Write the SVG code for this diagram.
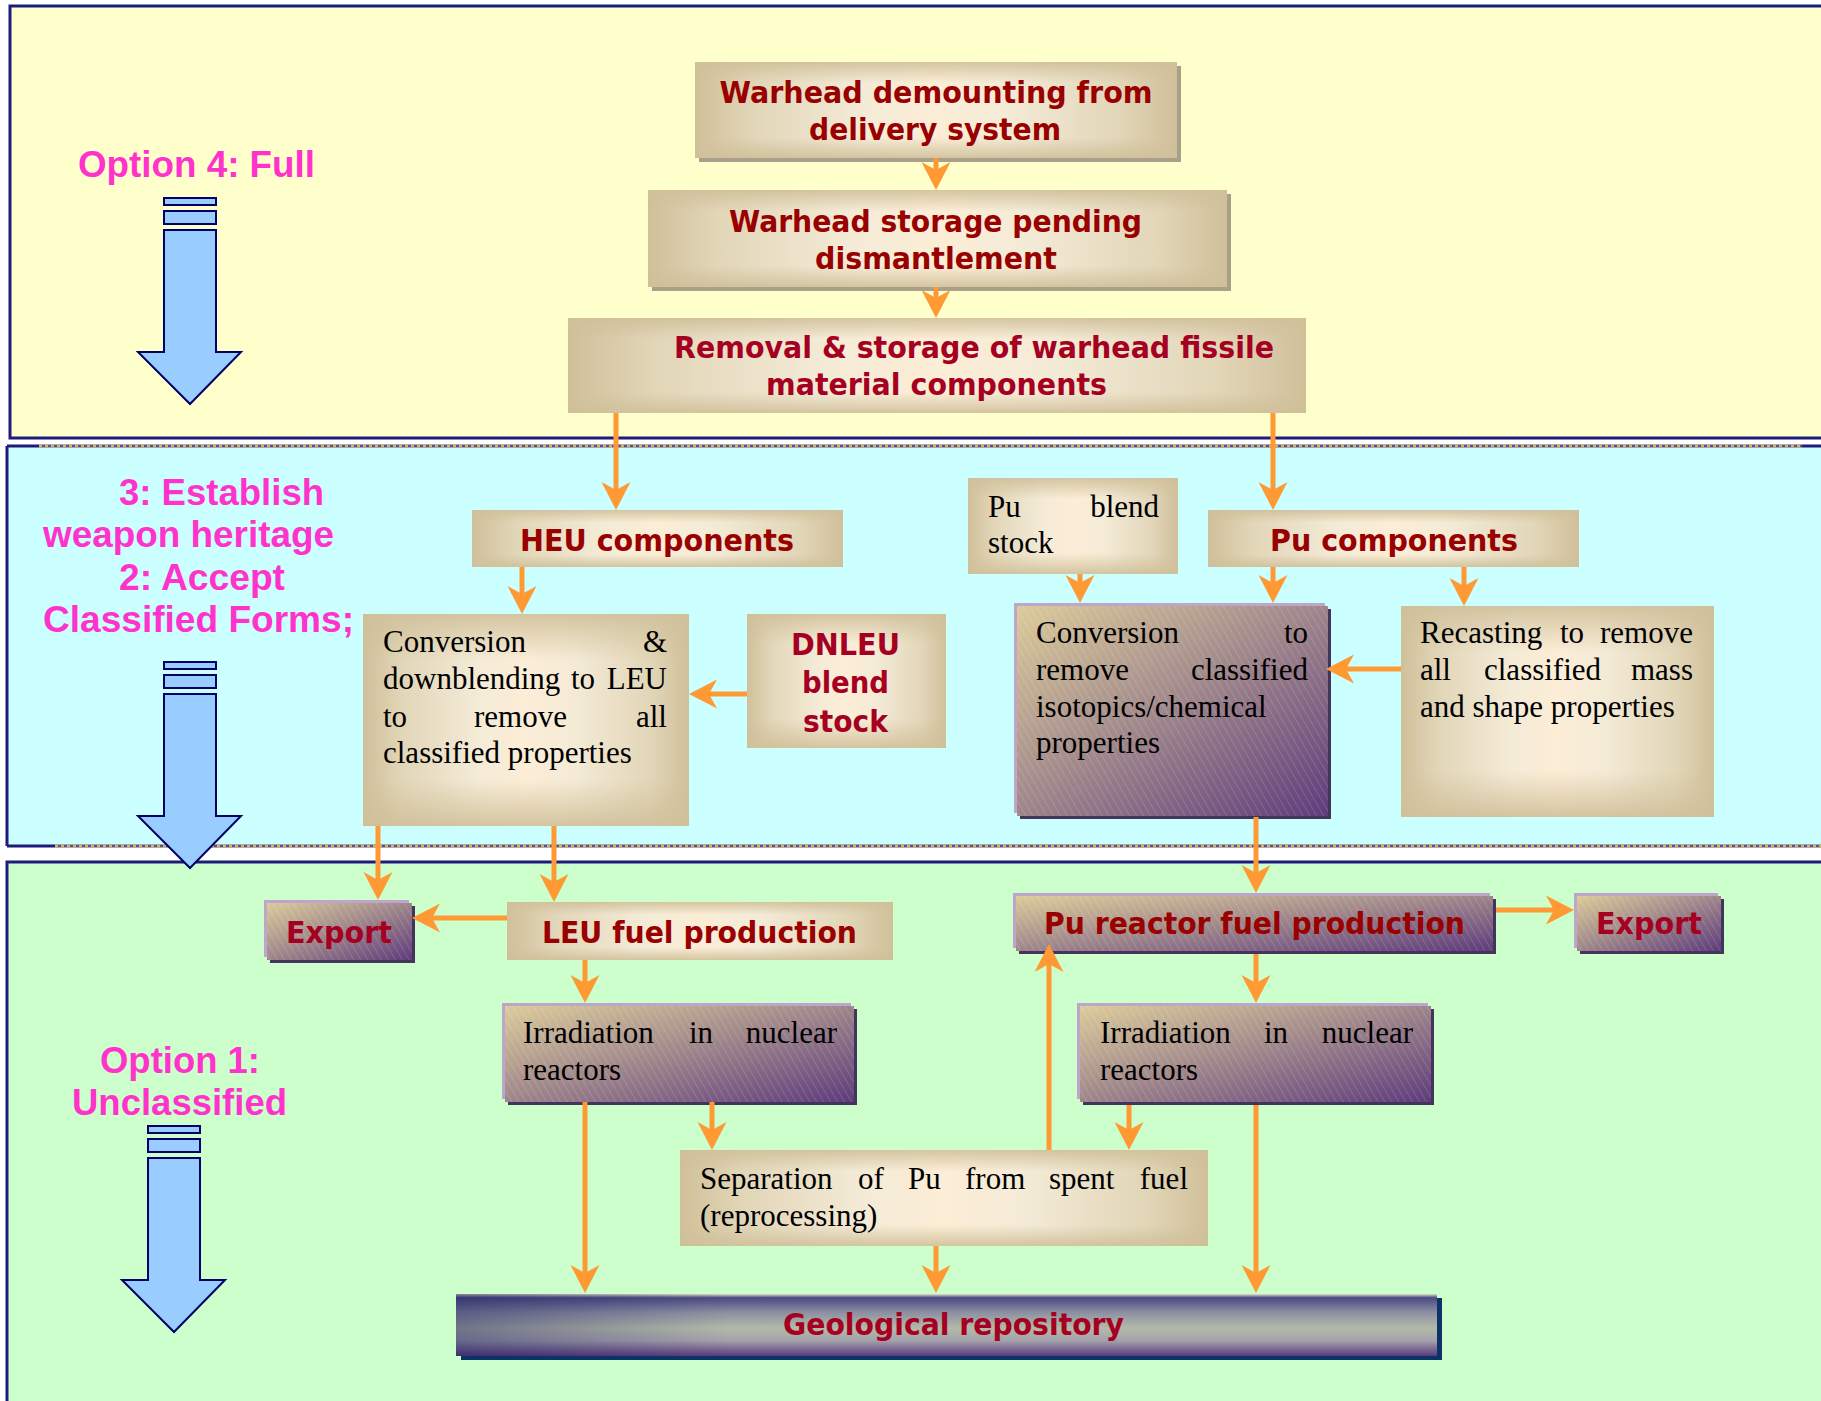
<svg xmlns="http://www.w3.org/2000/svg" width="1821" height="1401" viewBox="0 0 1821 1401">
<style>
.pk{font-family:"Liberation Sans",Arial,sans-serif;font-weight:bold;font-size:36px;fill:#FF33CC}
.bt{font-family:"DejaVu Sans",Verdana,sans-serif;font-weight:bold;font-size:29.5px;fill:#990000;text-anchor:middle}
.c2{fill:#A50021}
.st{font-family:"Liberation Serif","Times New Roman",serif;font-size:31px;fill:#000}
.e{text-anchor:end}
.cn{fill:none;stroke:#FF9933;stroke-width:5;marker-end:url(#ah)}
.ba{fill:#99CCFF;stroke:#000066;stroke-width:2}
.bh{fill:url(#gBh)}
.bv{fill:url(#gBv)}
.bs{fill:#A8A08A}
.ps{fill:#43345C}
.pl{fill:#BCA6CC}
.pg{fill:url(#gP)}
.ph{fill:url(#hatch)}
.nv{stroke:#1C1C7C;stroke-width:3;fill:none}
.dt{stroke:#D8B068;stroke-width:3;stroke-dasharray:3 3;fill:none}
</style>
<defs>
<linearGradient id="gBh" x1="0" y1="0" x2="1" y2="0">
<stop offset="0" stop-color="#D0C09A"/><stop offset="0.12" stop-color="#E2D6B8"/><stop offset="0.35" stop-color="#F4EBD7"/><stop offset="0.5" stop-color="#FCEDD6"/><stop offset="0.65" stop-color="#F4EBD7"/><stop offset="0.88" stop-color="#E2D6B8"/><stop offset="1" stop-color="#D0C09A"/>
</linearGradient>
<linearGradient id="gBv" x1="0" y1="0" x2="0" y2="1">
<stop offset="0" stop-color="#D0C09A" stop-opacity="0.9"/><stop offset="0.22" stop-color="#D0C09A" stop-opacity="0"/><stop offset="0.78" stop-color="#D0C09A" stop-opacity="0"/><stop offset="1" stop-color="#D0C09A" stop-opacity="0.9"/>
</linearGradient>
<linearGradient id="gP" x1="0" y1="0" x2="1" y2="1">
<stop offset="0" stop-color="#DCCB9A"/><stop offset="0.45" stop-color="#A48C8C"/><stop offset="1" stop-color="#5E3C7C"/>
</linearGradient>
<pattern id="hatch" patternUnits="userSpaceOnUse" width="6" height="6" patternTransform="rotate(-30)">
<line x1="0" y1="0" x2="0" y2="6" stroke="#FFFFFF" stroke-opacity="0.18" stroke-width="1.5"/>
</pattern>
<linearGradient id="gGv" x1="0" y1="0" x2="0" y2="1">
<stop offset="0" stop-color="#E2E2C8"/><stop offset="0.06" stop-color="#4C4A82"/><stop offset="0.3" stop-color="#8C90A2"/><stop offset="0.55" stop-color="#B4BAA8"/><stop offset="0.75" stop-color="#A4A2AC"/><stop offset="1" stop-color="#5A3A7C"/>
</linearGradient>
<linearGradient id="gGh" x1="0" y1="0" x2="1" y2="0">
<stop offset="0" stop-color="#1E2060" stop-opacity="0.45"/><stop offset="0.28" stop-color="#1E2060" stop-opacity="0"/>
</linearGradient>
<marker id="ah" markerUnits="userSpaceOnUse" markerWidth="42" markerHeight="32" viewBox="-30 -16 42 32" refX="0" refY="0" orient="auto" overflow="visible">
<path d="M10,0 L-18,-14.5 L-10,0 L-18,14.5 Z" fill="#FF9933"/>
</marker>
</defs>
<rect x="0" y="0" width="1821" height="1401" fill="#FFFFFF"/>

<!-- panels -->
<rect x="10" y="6" width="1830" height="432" fill="#FFFFCC" stroke="#1C1C7C" stroke-width="3"/>
<rect x="7" y="446" width="1830" height="400" fill="#CCFFFF"/>
<path class="nv" d="M7,446 V846"/>
<path class="nv" d="M7,446 H39 M1802,446 H1821 M7,846 H55"/>
<path d="M39,446 H1802 M55,846 H1821" stroke="#55558A" stroke-width="3" fill="none"/>
<path class="dt" d="M39,446 H1802 M55,846 H1821"/>
<rect x="7" y="862" width="1830" height="600" fill="#CCFFCC" stroke="#1C1C7C" stroke-width="3"/>

<!-- option labels -->
<text class="pk" x="78" y="177" textLength="237" lengthAdjust="spacingAndGlyphs">Option 4: Full</text>
<text class="pk" x="119" y="505" textLength="205" lengthAdjust="spacingAndGlyphs">3: Establish</text>
<text class="pk" x="43" y="547" textLength="291" lengthAdjust="spacingAndGlyphs">weapon heritage</text>
<text class="pk" x="119" y="590" textLength="166" lengthAdjust="spacingAndGlyphs">2: Accept</text>
<text class="pk" x="43" y="632" textLength="311" lengthAdjust="spacingAndGlyphs">Classified Forms;</text>
<text class="pk" x="100" y="1073" textLength="160" lengthAdjust="spacingAndGlyphs">Option 1:</text>
<text class="pk" x="72" y="1115" textLength="215" lengthAdjust="spacingAndGlyphs">Unclassified</text>

<!-- blue arrows -->
<g id="bigarrow1">
<rect class="ba" x="164" y="198" width="52" height="7"/>
<rect class="ba" x="164" y="211" width="52" height="13"/>
<path class="ba" d="M164,230 H216 V352 H241 L190,404 L138,352 H164 Z"/>
</g>
<g id="bigarrow2" transform="translate(0,464)">
<rect class="ba" x="164" y="198" width="52" height="7"/>
<rect class="ba" x="164" y="211" width="52" height="13"/>
<path class="ba" d="M164,230 H216 V352 H241 L190,404 L138,352 H164 Z"/>
</g>
<g id="bigarrow3" transform="translate(-16,928)">
<rect class="ba" x="164" y="198" width="52" height="7"/>
<rect class="ba" x="164" y="211" width="52" height="13"/>
<path class="ba" d="M164,230 H216 V352 H241 L190,404 L138,352 H164 Z"/>
</g>

<!-- nodes -->
<g id="n-demount">
<rect class="bs" x="699" y="66" width="482" height="96"/>
<rect class="bh" x="695" y="62" width="482" height="96"/><rect class="bv" x="695" y="62" width="482" height="96"/>
<text class="bt" x="936" y="103" textLength="433" lengthAdjust="spacingAndGlyphs">Warhead demounting from</text>
<text class="bt" x="935" y="140" textLength="252" lengthAdjust="spacingAndGlyphs">delivery system</text>
</g>
<g id="n-storage">
<rect class="bs" x="652" y="194" width="579" height="97"/>
<rect class="bh" x="648" y="190" width="579" height="97"/><rect class="bv" x="648" y="190" width="579" height="97"/>
<text class="bt" x="935.5" y="232" textLength="413" lengthAdjust="spacingAndGlyphs">Warhead storage pending</text>
<text class="bt" x="936" y="269" textLength="242" lengthAdjust="spacingAndGlyphs">dismantlement</text>
</g>
<g id="n-removal">
<rect class="bh" x="568" y="318" width="738" height="95"/><rect class="bv" x="568" y="318" width="738" height="95"/>
<text class="bt c2" x="974" y="358" textLength="600" lengthAdjust="spacingAndGlyphs">Removal &amp; storage of warhead fissile</text>
<text class="bt c2" x="936.5" y="395" textLength="341" lengthAdjust="spacingAndGlyphs">material components</text>
</g>
<g id="n-heu">
<rect class="bh" x="472" y="510" width="371" height="57"/><rect class="bv" x="472" y="510" width="371" height="57"/>
<text class="bt" x="657" y="551" textLength="274" lengthAdjust="spacingAndGlyphs">HEU components</text>
</g>
<g id="n-pucomp">
<rect class="bh" x="1208" y="510" width="371" height="57"/><rect class="bv" x="1208" y="510" width="371" height="57"/>
<text class="bt" x="1394" y="551" textLength="248" lengthAdjust="spacingAndGlyphs">Pu components</text>
</g>
<g id="n-publend">
<rect class="bh" x="968" y="478" width="210" height="96"/><rect class="bv" x="968" y="478" width="210" height="96"/>
<text class="st" x="988" y="517">Pu</text><text class="st e" x="1159" y="517">blend</text>
<text class="st" x="988" y="553">stock</text>
</g>
<g id="n-conv-heu">
<rect class="bh" x="363" y="614" width="326" height="212"/><rect class="bv" x="363" y="614" width="326" height="212"/>
<text class="st" x="383" y="652">Conversion</text><text class="st e" x="667" y="652">&amp;</text>
<text class="st" x="383" y="689">downblending</text><text class="st" x="571" y="689">to</text><text class="st e" x="667" y="689">LEU</text>
<text class="st" x="383" y="727">to</text><text class="st" x="474" y="727">remove</text><text class="st e" x="667" y="727">all</text>
<text class="st" x="383" y="763">classified properties</text>
</g>
<g id="n-dnleu">
<rect class="bh" x="747" y="614" width="199" height="134"/><rect class="bv" x="747" y="614" width="199" height="134"/>
<text class="bt c2" x="845.5" y="655" style="font-size:31px" textLength="109" lengthAdjust="spacingAndGlyphs">DNLEU</text>
<text class="bt c2" x="845.5" y="693" style="font-size:31px" textLength="87" lengthAdjust="spacingAndGlyphs">blend</text>
<text class="bt c2" x="845.5" y="732" style="font-size:31px" textLength="85" lengthAdjust="spacingAndGlyphs">stock</text>
</g>
<g id="n-conv-pu">
<rect class="ps" x="1020" y="609" width="311" height="210"/>
<rect class="pl" x="1014" y="603" width="311" height="210"/>
<rect class="pg" x="1017" y="606" width="311" height="210"/><rect class="ph" x="1017" y="606" width="311" height="210"/>
<text class="st" x="1036" y="643">Conversion</text><text class="st e" x="1308" y="643">to</text>
<text class="st" x="1036" y="680">remove</text><text class="st e" x="1308" y="680">classified</text>
<text class="st" x="1036" y="717">isotopics/chemical</text>
<text class="st" x="1036" y="753">properties</text>
</g>
<g id="n-recast">
<rect class="bh" x="1401" y="606" width="313" height="211"/><rect class="bv" x="1401" y="606" width="313" height="211"/>
<text class="st" x="1420" y="643">Recasting</text><text class="st" x="1560" y="643">to</text><text class="st e" x="1693" y="643">remove</text>
<text class="st" x="1420" y="680">all</text><text class="st" x="1484" y="680">classified</text><text class="st e" x="1693" y="680">mass</text>
<text class="st" x="1420" y="717">and shape properties</text>
</g>
<g id="n-export1">
<rect class="ps" x="270" y="906" width="145" height="57"/>
<rect class="pl" x="264" y="900" width="145" height="57"/>
<rect class="pg" x="267" y="903" width="145" height="57"/><rect class="ph" x="267" y="903" width="145" height="57"/>
<text class="bt c2" x="339" y="943" textLength="106" lengthAdjust="spacingAndGlyphs">Export</text>
</g>
<g id="n-leufuel">
<rect class="bh" x="507" y="902" width="386" height="58"/><rect class="bv" x="507" y="902" width="386" height="58"/>
<text class="bt" x="699.5" y="943" textLength="315" lengthAdjust="spacingAndGlyphs">LEU fuel production</text>
</g>
<g id="n-pufuel">
<rect class="ps" x="1019" y="899" width="477" height="55"/>
<rect class="pl" x="1013" y="893" width="477" height="55"/>
<rect class="pg" x="1016" y="896" width="477" height="55"/><rect class="ph" x="1016" y="896" width="477" height="55"/>
<text class="bt" x="1254.5" y="934" textLength="421" lengthAdjust="spacingAndGlyphs">Pu reactor fuel production</text>
</g>
<g id="n-export2">
<rect class="ps" x="1580" y="899" width="144" height="55"/>
<rect class="pl" x="1574" y="893" width="144" height="55"/>
<rect class="pg" x="1577" y="896" width="144" height="55"/><rect class="ph" x="1577" y="896" width="144" height="55"/>
<text class="bt c2" x="1649" y="934" textLength="106" lengthAdjust="spacingAndGlyphs">Export</text>
</g>
<g id="n-irr1">
<rect class="ps" x="508" y="1009" width="349" height="96"/>
<rect class="pl" x="502" y="1003" width="349" height="96"/>
<rect class="pg" x="505" y="1006" width="349" height="96"/><rect class="ph" x="505" y="1006" width="349" height="96"/>
<text class="st" x="523" y="1043">Irradiation</text><text class="st" x="689" y="1043">in</text><text class="st e" x="837" y="1043">nuclear</text>
<text class="st" x="523" y="1080">reactors</text>
</g>
<g id="n-irr2">
<rect class="ps" x="1083" y="1009" width="351" height="96"/>
<rect class="pl" x="1077" y="1003" width="351" height="96"/>
<rect class="pg" x="1080" y="1006" width="351" height="96"/><rect class="ph" x="1080" y="1006" width="351" height="96"/>
<text class="st" x="1100" y="1043">Irradiation</text><text class="st" x="1264" y="1043">in</text><text class="st e" x="1413" y="1043">nuclear</text>
<text class="st" x="1100" y="1080">reactors</text>
</g>
<g id="n-separation">
<rect class="bh" x="680" y="1150" width="528" height="96"/><rect class="bv" x="680" y="1150" width="528" height="96"/>
<text class="st" x="700" y="1189">Separation</text><text class="st" x="858" y="1189">of</text><text class="st" x="908" y="1189">Pu</text><text class="st" x="965" y="1189">from</text><text class="st" x="1049" y="1189">spent</text><text class="st e" x="1188" y="1189">fuel</text>
<text class="st" x="700" y="1226">(reprocessing)</text>
</g>
<g id="n-geo">
<rect x="461" y="1298" width="981" height="62" fill="#0B3466"/>
<rect x="456" y="1294" width="981" height="62" fill="url(#gGv)"/>
<rect x="456" y="1294" width="981" height="62" fill="url(#gGh)"/>
<text class="bt c2" x="953.5" y="1335" textLength="341" lengthAdjust="spacingAndGlyphs">Geological repository</text>
</g>

<!-- connectors -->
<g id="connectors">
<path class="cn" d="M936,158 V180"/>
<path class="cn" d="M936,287 V308"/>
<path class="cn" d="M616,413 V500"/>
<path class="cn" d="M1273,413 V500"/>
<path class="cn" d="M522,567 V604"/>
<path class="cn" d="M1080,574 V593"/>
<path class="cn" d="M1273,567 V593"/>
<path class="cn" d="M1464,567 V596"/>
<path class="cn" d="M747,694 H699"/>
<path class="cn" d="M1401,669 H1336"/>
<path class="cn" d="M378,826 V890"/>
<path class="cn" d="M554,826 V892"/>
<path class="cn" d="M1256,817 V883"/>
<path class="cn" d="M507,918 H422"/>
<path class="cn" d="M1496,910 H1564"/>
<path class="cn" d="M585,960 V993"/>
<path class="cn" d="M1256,954 V993"/>
<path class="cn" d="M585,1102 V1283"/>
<path class="cn" d="M712,1102 V1140"/>
<path class="cn" d="M1129,1105 V1140"/>
<path class="cn" d="M1256,1105 V1283"/>
<path class="cn" d="M936,1246 V1283"/>
<path class="cn" d="M1049,1150 V954"/>
</g>
</svg>
